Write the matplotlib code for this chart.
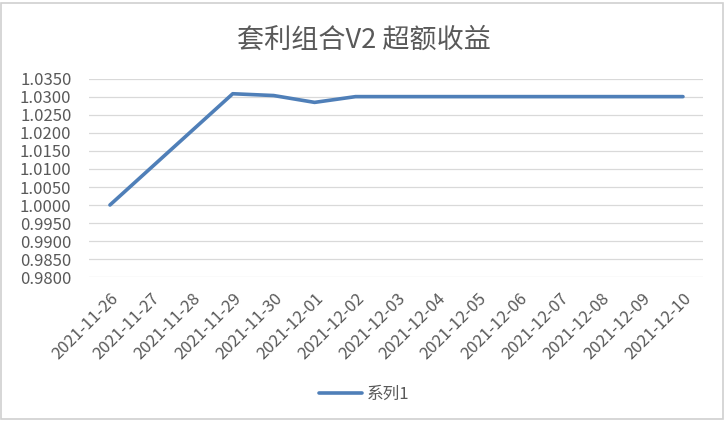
import matplotlib as mpl
import matplotlib.pyplot as plt
from matplotlib.patches import Rectangle

mpl.rcParams.update({'font.family': ['Noto Sans CJK SC', 'DejaVu Sans'],
                     'font.size': 12,
                     'axes.unicode_minus': False,
                    })

dates = ['2021-11-26', '2021-11-27', '2021-11-28', '2021-11-29', '2021-11-30',
         '2021-12-01', '2021-12-02', '2021-12-03', '2021-12-04', '2021-12-05',
         '2021-12-06', '2021-12-07', '2021-12-08', '2021-12-09', '2021-12-10']
values = [1.0000, 1.0103, 1.0206, 1.0309, 1.0304,
          1.0285, 1.0301, 1.0301, 1.0301, 1.0301,
          1.0301, 1.0301, 1.0301, 1.0301, 1.0301]
yticks = [0.9800, 0.9850, 0.9900, 0.9950, 1.0000, 1.0050, 1.0100,
          1.0150, 1.0200, 1.0250, 1.0300, 1.0350]

grey = '#595959'

fig = plt.figure(figsize=(7.24, 4.21), dpi=100)
ax = fig.add_axes([0.1236, 0.342, 0.848, 0.4704])

x = list(range(len(dates)))
ax.plot(x, values, color='#4f7fb8', lw=2.6, solid_capstyle='round',
        solid_joinstyle='round', label='系列1')

ax.set_xlim(-0.5, len(dates) - 0.5)
ax.set_ylim(yticks[0], yticks[-1])
ax.set_yticks(yticks)
ax.set_yticklabels(['%.4f' % v for v in yticks], color=grey)
ax.set_xticks(x)
ax.set_xticklabels(dates, rotation=45, ha='right', rotation_mode='anchor', color=grey)
ax.tick_params(length=0)
ax.tick_params(axis='y', pad=13)
ax.tick_params(axis='x', pad=9)
ax.grid(axis='y', color='#d9d9d9', lw=0.9)
ax.set_axisbelow(True)
for s in ax.spines.values():
    s.set_visible(False)

fig.text(0.502, 0.905, '套利组合V2 超额收益', ha='center', va='center',
         fontsize=19.5, color=grey)

leg = fig.legend(loc='center', bbox_to_anchor=(0.503, 0.064), frameon=False,
                 handlelength=2.6, handletextpad=0.3)
for t in leg.get_texts():
    t.set_color(grey)

fig.patches.append(Rectangle((0.001, 0.004), 0.997, 0.99, transform=fig.transFigure,
                             fill=False, edgecolor='#d0d0d0', lw=1.2))

fig.savefig('out.png', dpi=100)
